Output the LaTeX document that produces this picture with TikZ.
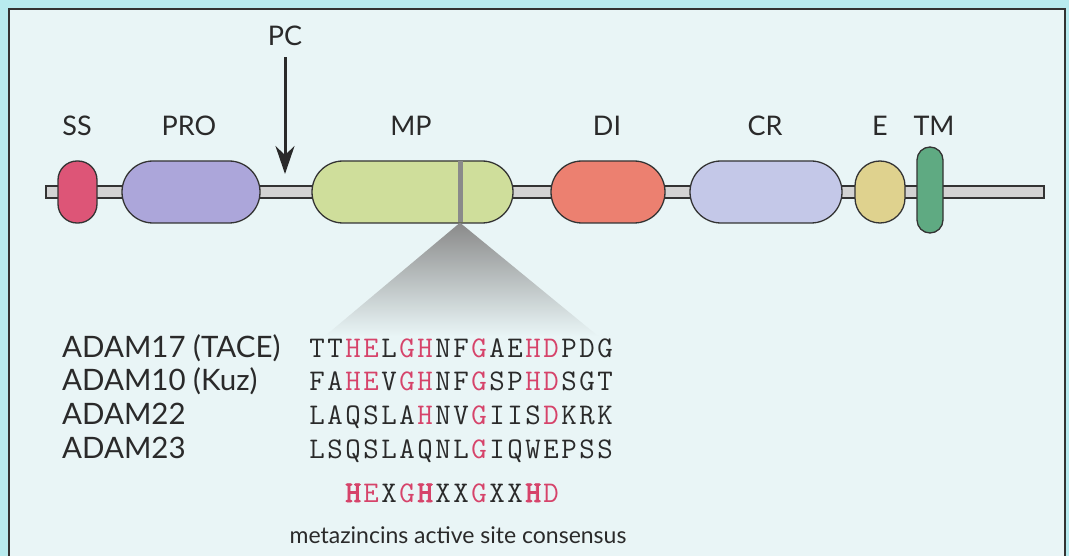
\documentclass[tikz,border=0pt]{standalone}
\usepackage{fontspec}
\setmainfont{Lato}
\newfontfamily\seqbold{lmmono10-regular.otf}[FakeBold=2.5]
\usetikzlibrary{arrows.meta}
\definecolor{outerbg}{HTML}{B8EBEF}
\definecolor{panelbg}{HTML}{E9F5F6}
\definecolor{linec}{HTML}{333333}
\definecolor{txtc}{HTML}{2A2A2A}
\definecolor{seqred}{HTML}{D6436A}
\definecolor{ssc}{HTML}{DD5577}
\definecolor{proc}{HTML}{ACA6DA}
\definecolor{mpc}{HTML}{CFDE9B}
\definecolor{dic}{HTML}{EC8070}
\definecolor{crc}{HTML}{C4C8E8}
\definecolor{ec}{HTML}{DFD28E}
\definecolor{tmc}{HTML}{5FAA82}
\definecolor{barc}{HTML}{D3D3D3}
\definecolor{cutc}{HTML}{8A8A8A}
\makeatletter
\def\seqrow#1{\seq@loop#1\relax}
\def\seq@loop#1{\ifx\relax#1\else\seq@cell{#1}\expandafter\seq@loop\fi}
\def\seq@cell#1{\ifnum`#1>`Z\makebox[18pt][c]{\color{seqred}\uppercase{#1}}\else\makebox[18pt][c]{#1}\fi}
\makeatother
\newcommand\cellR[1]{\makebox[18pt][c]{\color{seqred}#1}}
\newcommand\cellK[1]{\makebox[18pt][c]{#1}}
\newcommand\cellB[1]{\makebox[18pt][c]{\color{seqred}\seqbold #1}}
\begin{document}
\begin{tikzpicture}[x=1pt,y=-1pt,
  dombox/.style={draw=linec, line width=1.3pt, inner sep=0pt},
  lab/.style={anchor=base, inner sep=0pt, text=txtc, font=\fontsize{27}{30}\selectfont},
  adam/.style={anchor=base west, inner sep=0pt, text=txtc, font=\fontsize{29.5}{32}\selectfont},
  seq/.style={anchor=base west, inner sep=0pt, text=txtc, font=\ttfamily\fontsize{30}{32}\selectfont},
  pcarrow/.style={draw=txtc, line width=3pt, -{Stealth[length=28pt,width=19pt]}},
]
\useasboundingbox (0,0) rectangle (1069,556);
\fill[outerbg] (0,0) rectangle (1069,556);
\fill[panelbg] (9,9) rectangle (1065,556);
\draw[linec, line width=1.5pt] (9,556) -- (9,9) -- (1065,9) -- (1065,556);

% backbone
\node[draw=linec, line width=1.2pt, fill=barc, minimum width=998pt, minimum height=12pt, inner sep=0pt] (bar) at (545,192) {};

% domains
\node[dombox, fill=ssc, minimum width=39pt, minimum height=62pt, rounded corners=19pt] (ss) at (77.5,192) {};
\node[dombox, fill=proc, minimum width=138pt, minimum height=62pt, rounded corners=31pt] (pro) at (191,192) {};
\node[dombox, fill=mpc, minimum width=201pt, minimum height=62pt, rounded corners=31pt] (mp) at (412.5,192) {};
\node[fill=cutc, minimum width=5pt, minimum height=61pt, inner sep=0pt] (cut) at (460,192) {};
\node[dombox, fill=dic, minimum width=114pt, minimum height=62pt, rounded corners=31pt] (di) at (608,192) {};
\node[dombox, fill=crc, minimum width=152pt, minimum height=62pt, rounded corners=31pt] (cr) at (766,192) {};
\node[dombox, fill=ec, minimum width=50pt, minimum height=62pt, rounded corners=25pt] (e) at (880,192) {};
\node[dombox, fill=tmc, minimum width=26pt, minimum height=86pt, rounded corners=13pt] (tm) at (930,190) {};

% zoom triangle
\coordinate (tl) at (325,336);
\coordinate (tr) at (598,336);
\shade[top color=cutc, bottom color=panelbg] (cut.south) -- (tr) -- (tl) -- cycle;

% labels
\node[lab] (lss) at (77,136) {SS};
\node[lab] (lpro) at (189,136) {PRO};
\node[lab] (lmp) at (411,136) {MP};
\node[lab] (ldi) at (607,136) {DI};
\node[lab] (lcr) at (765,136) {CR};
\node[lab] (le) at (880,136) {E};
\node[lab] (ltm) at (934,136) {TM};
\node[lab] (pc) at (285,46) {PC};
\coordinate (pctip) at (285,174);
\draw[pcarrow, shorten <=11pt] (pc) -- (pctip);

% ADAM names
\node[adam] (a17) at (62,357) {ADAM17 (TACE)};
\node[adam] (a10) at (62,390) {ADAM10 (Kuz)};
\node[adam] (a22) at (62,424) {ADAM22};
\node[adam] (a23) at (62,458) {ADAM23};

% sequences
\node[seq] (s17) at (308,357) {\seqrow{TTheLghNFgAEhdPDG}};
\node[seq] (s10) at (308,390) {\seqrow{FAheVghNFgSPhdSGT}};
\node[seq] (s22) at (308,424) {\seqrow{LAQSLAhNVgIISdKRK}};
\node[seq] (s23) at (308,458) {\seqrow{LSQSLAQNLgIQWEPSS}};
\node[seq] (cons) at (344,502) {\cellB{H}\cellR{E}\cellK{X}\cellR{G}\cellB{H}\cellK{X}\cellK{X}\cellR{G}\cellK{X}\cellK{X}\cellB{H}\cellR{D}};
\node[anchor=base, inner sep=0pt, text=txtc, font=\fontsize{23}{26}\selectfont] (meta) at (458,543) {metazincins active site consensus};
\end{tikzpicture}
\end{document}
